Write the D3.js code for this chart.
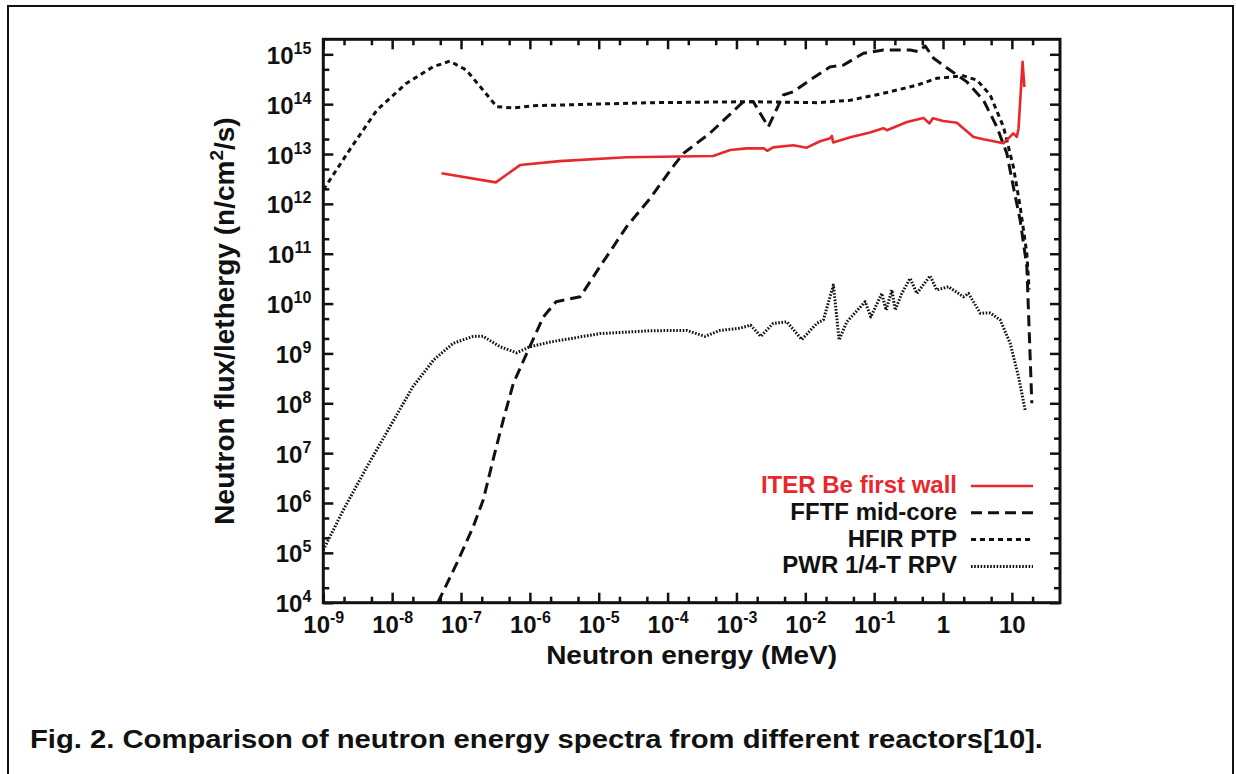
<!DOCTYPE html>
<html>
<head>
<meta charset="utf-8">
<script src="https://cdn.jsdelivr.net/npm/d3@7"></script>
<style>
    body { margin: 0; background: #fff; }
    svg { display: block; font-family: "Liberation Sans", Arial, Helvetica, sans-serif; font-weight: bold; }
</style>
</head>
<body>
<svg id="chart" width="1236" height="774"></svg>
<script>
// Each series is [neutron energy (MeV), flux/lethergy (n/cm2/s)]
var iterData = [
    [5.2e-8, 4.1e12], [3.2e-7, 2.7e12], [7.2e-7, 6.0e12], [2.7e-6, 7.2e12], [2.55e-5, 8.6e12],
    [4.6e-4, 9.1e12], [8.1e-4, 1.2e13], [1.41e-3, 1.3e13], [2.5e-3, 1.3e13], [2.8e-3, 1.16e13],
    [3.4e-3, 1.36e13], [6.7e-3, 1.5e13], [1.05e-2, 1.34e13], [1.64e-2, 1.8e13], [2.3e-2, 2.07e13],
    [2.43e-2, 2.3e13], [2.54e-2, 1.7e13], [4.5e-2, 2.16e13], [8.7e-2, 2.7e13], [0.136, 3.3e13],
    [0.153, 3.0e13], [0.30, 4.4e13], [0.52, 5.3e13], [0.635, 4.1e13], [0.71, 5.2e13],
    [1.01, 4.6e13], [1.59, 4.25e13], [2.77, 2.2e13], [3.87, 1.97e13], [7.55, 1.64e13],
    [10.5, 2.6e13], [11.8, 2.2e13], [12.5, 3.3e13], [14.3, 7.1e14], [15.2, 2.2e14]
];
var fftfData = [
    [4.6e-8, 1.0e4], [8.7e-8, 6.2e4], [1.5e-7, 3.3e5], [2.1e-7, 1.15e6], [3.0e-7, 8.5e6],
    [4.1e-7, 4.6e7], [5.75e-7, 2.5e8], [9.0e-7, 1.0e9], [1.57e-6, 5.4e9], [2.4e-6, 1.09e10],
    [5.4e-6, 1.37e10], [1.04e-5, 5.5e10], [2.55e-5, 3.5e11], [5.6e-5, 1.3e12], [1.2e-4, 5.6e12],
    [1.7e-4, 1.03e13], [4.1e-4, 2.6e13], [1.26e-3, 1.12e14], [1.76e-3, 1.12e14], [2.9e-3, 3.5e13],
    [4.8e-3, 1.53e14], [6.7e-3, 1.78e14], [1.17e-2, 3.05e14], [2.3e-2, 5.6e14], [3.6e-2, 6.1e14],
    [7.0e-2, 1.05e15], [0.136, 1.22e15], [0.333, 1.22e15], [0.44, 1.13e15], [0.55, 1.47e15],
    [0.73, 8.3e14], [1.27, 4.8e14], [2.22, 2.8e14], [3.87, 1.2e14], [6.05, 3.5e13],
    [8.45, 1.03e13], [10.5, 2.2e12], [13.2, 4.7e11], [16.5, 5.5e10], [19.5, 1.0e8]
];
var hfirData = [
    [1.0e-9, 1.9e12], [2.4e-9, 1.2e13], [6.0e-9, 7.6e13], [1.6e-8, 2.6e14], [3.9e-8, 5.6e14],
    [6.9e-8, 7.3e14], [1.2e-7, 4.8e14], [2.1e-7, 1.9e14], [3.3e-7, 8.9e13], [5.7e-7, 8.4e13],
    [1.1e-6, 9.3e13], [5.6e-5, 1.07e14], [1.6e-3, 1.12e14], [1.5e-2, 1.07e14], [4.5e-2, 1.2e14],
    [0.136, 1.65e14], [0.417, 2.4e14], [0.81, 3.3e14], [1.98, 3.7e14], [3.1, 3.05e14],
    [4.84, 1.53e14], [7.55, 3.5e13], [10.5, 5.6e12], [13.2, 8.8e11], [16.5, 1.0e11], [17.8, 1.9e10]
];
var pwrData = [
    [1.0e-9, 1.14e5], [1.95e-9, 7.2e5], [4.3e-9, 5.3e6], [9.3e-9, 3.4e7], [2.0e-8, 2.15e8],
    [4.0e-8, 7.4e8], [7.7e-8, 1.6e9], [1.5e-7, 2.2e9], [2.1e-7, 2.2e9], [3.7e-7, 1.36e9],
    [6.4e-7, 1.03e9], [1.0e-6, 1.36e9], [2.0e-6, 1.7e9], [1.04e-5, 2.5e9], [5.6e-5, 2.85e9],
    [1.9e-4, 2.9e9], [3.5e-4, 2.2e9], [5.8e-4, 2.9e9], [1.13e-3, 3.2e9], [1.6e-3, 3.7e9],
    [2.26e-3, 2.2e9], [3.4e-3, 4.0e9], [5.4e-3, 4.3e9], [8.9e-3, 1.9e9], [1.47e-2, 4.0e9],
    [1.83e-2, 4.7e9], [2.56e-2, 2.35e10], [3.1e-2, 1.86e9], [4.0e-2, 4.3e9], [7.4e-2, 1.09e10],
    [8.95e-2, 5.4e9], [0.129, 1.6e10], [0.149, 7.4e9], [0.181, 1.87e10], [0.202, 7.4e9],
    [0.252, 1.6e10], [0.333, 3.2e10], [0.417, 1.6e10], [0.65, 3.6e10], [0.81, 1.87e10],
    [1.2, 2.18e10], [1.98, 1.37e10], [2.34, 1.6e10], [3.47, 6.4e9], [4.84, 6.5e9],
    [6.76, 4.7e9], [9.44, 1.6e9], [12.5, 3.4e8], [15.6, 7.3e7]
];
var seriesNames = ["ITER Be first wall", "FFTF mid-core", "HFIR PTP", "PWR 1/4-T RPV"];
var xTickExps = [-9, -8, -7, -6, -5, -4, -3, -2, -1, 0, 1];
var yTickExps = [4, 5, 6, 7, 8, 9, 10, 11, 12, 13, 14, 15];
var xTitle = "Neutron energy (MeV)";
var yTitle = ["Neutron flux/lethergy (n/cm", "2", "/s)"];
var caption = "Fig. 2. Comparison of neutron energy spectra from different reactors[10].";

var svg = d3.select("#chart");
// plot frame (note: "top" is taken by window.top, so use other names)
var plotL = 323.3, plotR = 1060, plotT = 39.3, plotB = 602.7;

var x = d3.scaleLog().domain([1e-9, 50]).range([plotL, plotR]);
var y = d3.scaleLog().domain([1e4, 2e15]).range([plotB, plotT]);

// Outer figure border
svg.append("rect").attr("x", 8).attr("y", 6).attr("width", 1225).attr("height", 800)
    .attr("fill", "none").attr("stroke", "#111").attr("stroke-width", 2);

// Minor ticks at 2 and 5 of every decade
var xMinor = [], yMinor = [];
xTickExps.forEach(e => [2, 5].forEach(m => { var v = m * Math.pow(10, e); if (v < 45) xMinor.push(v); }));
yTickExps.forEach(e => [2, 5].forEach(m => { var v = m * Math.pow(10, e); if (v < 1.9e15) yMinor.push(v); }));
var xMajor = xTickExps.map(e => Math.pow(10, e));
var yMajor = yTickExps.map(e => Math.pow(10, e));

function tickAxis(axis, vals, size, tx, ty) {
    var g = svg.append("g").attr("transform", `translate(${tx},${ty})`)
        .call(axis.tickValues(vals).tickSize(-size).tickFormat(""));
    g.select(".domain").remove();
    g.selectAll(".tick line").attr("stroke", "#111").attr("stroke-width", 2.5);
    return g;
}

var xBottom = tickAxis(d3.axisBottom(x), xMajor, 10, 0, plotB);
tickAxis(d3.axisBottom(x), xMinor, 6, 0, plotB);
tickAxis(d3.axisTop(x), xMajor, 10, 0, plotT);
tickAxis(d3.axisTop(x), xMinor, 6, 0, plotT);
var yLeft = tickAxis(d3.axisLeft(y), yMajor, 10, plotL, 0);
tickAxis(d3.axisLeft(y), yMinor, 6, plotL, 0);
tickAxis(d3.axisRight(y), yMajor, 10, plotR, 0);
tickAxis(d3.axisRight(y), yMinor, 6, plotR, 0);

// Tick labels with superscript exponents
xBottom.selectAll(".tick").each(function (d, i) {
    var e = xTickExps[i];
    var t = d3.select(this).append("text").attr("x", 0).attr("y", 30)
        .attr("text-anchor", "middle").attr("fill", "#111").style("font-size", "24px");
    if (e == 0) t.text("1");
    else if (e == 1) t.text("10");
    else {
        t.append("tspan").text("10");
        t.append("tspan").attr("dy", -10).style("font-size", "16px").text(e);
    }
});
yLeft.selectAll(".tick").each(function (d, i) {
    var t = d3.select(this).append("text").attr("x", -12).attr("y", 9)
        .attr("text-anchor", "end").attr("fill", "#111").style("font-size", "24px");
    t.append("tspan").text("10");
    t.append("tspan").attr("dy", -10).style("font-size", "16px").text(yTickExps[i]);
});

// Frame
svg.append("rect").attr("x", plotL).attr("y", plotT).attr("width", plotR - plotL).attr("height", plotB - plotT)
    .attr("fill", "none").attr("stroke", "#111").attr("stroke-width", 3);

// Series
var line = d3.line().x(d => x(d[0])).y(d => y(d[1]));
var styles = [
    { data: iterData, color: "#e8282c", width: 2.6, dash: null },
    { data: fftfData, color: "#111", width: 3, dash: "11,6" },
    { data: hfirData, color: "#111", width: 3, dash: "5,4" },
    { data: pwrData, color: "#111", width: 3, dash: "1.6,1.6" }
];
styles.slice().reverse().forEach(s => {
    svg.append("path").datum(s.data).attr("d", line)
        .attr("fill", "none").attr("stroke", s.color).attr("stroke-width", s.width)
        .attr("stroke-dasharray", s.dash).attr("stroke-linejoin", "round");
});

// Legend
var legend = svg.append("g");
seriesNames.forEach((name, i) => {
    var by = 493 + i * 26.8;
    legend.append("text").attr("x", 957).attr("y", by).attr("text-anchor", "end")
        .attr("fill", i == 0 ? "#e8282c" : "#111").style("font-size", "24px").text(name);
    legend.append("line").attr("x1", 971).attr("x2", 1033).attr("y1", by - 7).attr("y2", by - 7)
        .attr("stroke", styles[i].color).attr("stroke-width", styles[i].width)
        .attr("stroke-dasharray", styles[i].dash);
});

// Axis titles
svg.append("text").attr("x", (plotL + plotR) / 2).attr("y", 664).attr("text-anchor", "middle")
    .attr("fill", "#111").style("font-size", "26px")
    .attr("textLength", 291).attr("lengthAdjust", "spacingAndGlyphs").text(xTitle);

var yt = svg.append("text").attr("transform", "translate(234,321) rotate(-90)")
    .attr("text-anchor", "middle").attr("fill", "#111").style("font-size", "28px");
yt.append("tspan").text(yTitle[0]);
yt.append("tspan").attr("dy", -11).style("font-size", "19px").text(yTitle[1]);
yt.append("tspan").attr("dy", 11).text(yTitle[2]);

// Caption
svg.append("text").attr("x", 30).attr("y", 748).attr("fill", "#111").style("font-size", "25px")
    .attr("textLength", 1013).attr("lengthAdjust", "spacingAndGlyphs").text(caption);
</script>
</body>
</html>
